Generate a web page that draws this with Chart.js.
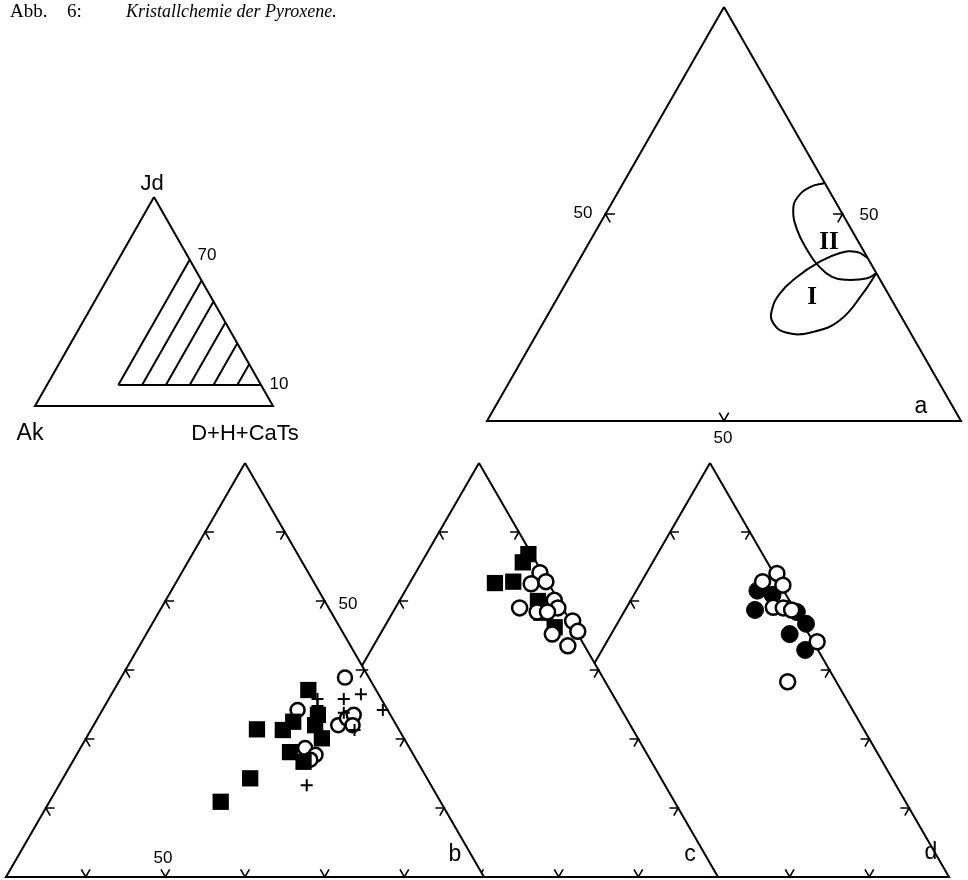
<!DOCTYPE html>
<html>
<head>
<meta charset="utf-8">
<script src="https://cdn.jsdelivr.net/npm/chart.js@4.4.1/dist/chart.umd.min.js"></script>
<style>
  html, body { margin: 0; padding: 0; background: #fff; }
  #wrap { width: 968px; height: 880px; }
</style>
</head>
<body>
<div id="wrap"><canvas id="fig" width="968" height="880"></canvas></div>
<script>
// Alle Werte als [Jd, D+H+CaTs] in %, Ak = 100 - Jd - (D+H+CaTs)

// Schema oben links: schraffiertes Feld Jd >= 10, D+H+CaTs >= 30
const keyHatchDHC = [30, 40, 50, 60, 70, 80];
const keyJdMin = 10;

// Dreieck a: Felder I und II
const fieldII = [[57.5, 42.5], [56.5, 39.9], [54.1, 38.5], [51.0, 39.1], [46.1, 42.4], [41.3, 46.9],
                 [37.7, 50.9], [34.8, 55.4], [34.1, 58.9], [34.5, 63.0], [35.7, 64.3]];
const fieldI = [[35.7, 64.3], [30.9, 63.9], [24.4, 62.3], [21.5, 58.0], [21.3, 52.6], [23.7, 48.5],
                [26.8, 46.7], [30.9, 46.4], [34.8, 48.0], [38.2, 50.7], [40.6, 54.2], [40.8, 57.7], [39.4, 60.6]];

// Dreieck b
const bSquares = [[37.1, 54.4], [31.4, 50.8], [31.3, 54.1], [32.5, 54.8], [32.0, 57.8], [33.5, 57.4],
                  [30.1, 59.6], [28.1, 56.6], [26.7, 59.0], [24.3, 53.5], [20.9, 51.5]];
const bCircles = [[38.9, 58.1], [34.2, 54.5], [32.0, 60.7], [33.0, 61.3], [33.5, 61.9], [32.0, 62.5],
                  [28.7, 58.2], [27.7, 60.0], [27.0, 59.7]];
const bCrosses = [[35.8, 59.5], [36.5, 61.3], [35.8, 56.2], [34.8, 56.7], [33.8, 60.5], [31.3, 63.1],
                  [23.3, 61.1], [34.2, 65.2]];

// Dreieck c
const cSquares = [[56.8, 42.8], [55.6, 42.7], [52.6, 40.7], [52.8, 42.9], [50.0, 47.4], [48.3, 48.7], [46.2, 51.4]];
const cCircles = [[54.1, 45.6], [52.5, 45.3], [52.8, 47.0], [50.1, 49.4], [49.0, 50.4], [49.0, 45.6],
                  [48.4, 48.1], [48.4, 49.4], [47.1, 53.2], [45.6, 54.6], [45.2, 51.6], [43.5, 54.4]];

// Dreieck d
const dFilled = [[51.5, 45.2], [48.7, 46.3], [45.2, 52.4], [42.9, 55.5], [46.7, 53.7], [50.9, 47.4], [48.4, 51.7]];
const dOpen = [[54.0, 46.4], [52.8, 45.2], [52.3, 48.0], [49.1, 48.4], [49.0, 49.7], [48.7, 50.9],
               [44.1, 56.4], [38.3, 55.6]];

// Teilstriche: Ausschnittsdreiecke alle 10 %, Dreieck a bei 50 %
const subTicks = [10, 20, 30, 40, 50];
const fullTicks = [50];

// Lage der Dreiecke auf der Seite
const geo = {
  key: { left: 35,  bottom: 406, w: 238, h: 209, jd0: 0,  dhc0: 0,  span: 100 },
  a:   { left: 487, bottom: 421, w: 474, h: 414, jd0: 0,  dhc0: 0,  span: 100 },
  b:   { left: 6,   bottom: 877, w: 478, h: 414, jd0: 10, dhc0: 30, span: 60 },
  c:   { left: 240, bottom: 877, w: 478, h: 414, jd0: 10, dhc0: 30, span: 60 },
  d:   { left: 471, bottom: 877, w: 478, h: 414, jd0: 10, dhc0: 30, span: 60 }
};

const GAP = { x: NaN, y: NaN };

function tp(g, jd, dhc) {
  const t = (jd - g.jd0) / g.span;
  const r = (dhc - g.dhc0) / g.span;
  return { x: g.left + (r + t / 2) * g.w, y: g.bottom - t * g.h };
}

function outline(g) {
  const s = g.span;
  return [tp(g, g.jd0 + s, g.dhc0), tp(g, g.jd0, g.dhc0), tp(g, g.jd0, g.dhc0 + s), tp(g, g.jd0 + s, g.dhc0)];
}

// kleine Winkel, Schenkel parallel zu den beiden anderen Seiten
function ticks(g, steps, d) {
  const out = [];
  const s = g.span, j0 = g.jd0, h0 = g.dhc0;
  steps.forEach(v => {
    let jd = j0 + v, dhc = h0 + s - v;
    out.push(tp(g, jd, dhc - d), tp(g, jd, dhc), tp(g, jd - d, dhc), GAP);
    jd = j0 + v; dhc = h0;
    out.push(tp(g, jd, dhc + d), tp(g, jd, dhc), tp(g, jd - d, dhc + d), GAP);
    jd = j0; dhc = h0 + v;
    out.push(tp(g, jd + d, dhc), tp(g, jd, dhc), tp(g, jd + d, dhc - d), GAP);
  });
  return out;
}

function pts(g, arr) {
  return arr.map(p => tp(g, p[0], p[1]));
}

function hatch(g) {
  const out = [tp(g, keyJdMin, keyHatchDHC[0]), tp(g, keyJdMin, 100 - keyJdMin), GAP];
  keyHatchDHC.forEach(k => {
    out.push(tp(g, keyJdMin, k), tp(g, 100 - k, k), GAP);
  });
  return out;
}

const lineDs = (data, extra) => Object.assign({
  data, showLine: true, pointRadius: 0, borderColor: '#000', borderWidth: 2,
  backgroundColor: '#fff', fill: false, tension: 0, spanGaps: false
}, extra || {});

const pointDs = (data, style) => Object.assign({
  data, showLine: false, pointStyle: 'circle', pointRadius: 7.5,
  pointBackgroundColor: '#fff', pointBorderColor: '#000', pointBorderWidth: 2.5
}, style);

const openCircle = { pointStyle: 'circle', pointRadius: 7.5, pointBackgroundColor: '#fff', pointBorderWidth: 2.5 };
const solidCircle = { pointStyle: 'circle', pointRadius: 8.5, pointBackgroundColor: '#000', pointBorderWidth: 1 };
const square = { pointStyle: 'rect', pointRadius: 11.5, pointBackgroundColor: '#000', pointBorderWidth: 0 };
const cross = { pointStyle: 'cross', pointRadius: 6, pointBorderWidth: 2 };

// von unten nach oben gezeichnet
const layers = [
  lineDs(outline(geo.d), { fill: 'shape' }),
  lineDs(ticks(geo.d, subTicks, 1.1), { borderWidth: 1.6 }),
  pointDs(pts(geo.d, dFilled), solidCircle),
  pointDs(pts(geo.d, dOpen), openCircle),

  lineDs(outline(geo.c), { fill: 'shape' }),
  lineDs(ticks(geo.c, subTicks, 1.1), { borderWidth: 1.6 }),
  pointDs(pts(geo.c, cSquares), square),
  pointDs(pts(geo.c, cCircles), openCircle),

  lineDs(outline(geo.b), { fill: 'shape' }),
  lineDs(ticks(geo.b, subTicks, 1.1), { borderWidth: 1.6 }),
  pointDs(pts(geo.b, bCircles), Object.assign({}, openCircle, { pointRadius: 7 })),
  pointDs(pts(geo.b, bSquares), square),
  pointDs(pts(geo.b, bCrosses), cross),

  lineDs(outline(geo.a)),
  lineDs(ticks(geo.a, fullTicks, 2), { borderWidth: 1.6 }),
  lineDs(pts(geo.a, fieldII), { tension: 0.45 }),
  lineDs(pts(geo.a, fieldI), { tension: 0.45 }),

  lineDs(outline(geo.key)),
  lineDs(hatch(geo.key))
];
layers.forEach((ds, i) => { ds.order = layers.length - i; });

const SANS = '"Liberation Sans", "DejaVu Sans", sans-serif';
const SERIF = '"Liberation Serif", "DejaVu Serif", serif';

const texts = [
  { t: 'Abb.', x: 10, y: 12, font: '19px ' + SERIF, align: 'left' },
  { t: '6:', x: 67, y: 12, font: '19px ' + SERIF, align: 'left' },
  { t: 'Kristallchemie der Pyroxene.', x: 126, y: 12, font: 'italic 18px ' + SERIF, align: 'left' },
  { t: 'Jd', x: 152, y: 184, font: '22px ' + SANS },
  { t: '70', x: 207, y: 255, font: '17px ' + SANS },
  { t: '10', x: 279, y: 384, font: '17px ' + SANS },
  { t: 'Ak', x: 30, y: 434, font: '23px ' + SANS },
  { t: 'D+H+CaTs', x: 245, y: 434, font: '22px ' + SANS },
  { t: '50', x: 583, y: 213, font: '17px ' + SANS },
  { t: '50', x: 869, y: 215, font: '17px ' + SANS },
  { t: '50', x: 723, y: 438, font: '17px ' + SANS },
  { t: 'a', x: 921, y: 407, font: '23px ' + SANS },
  { t: 'II', x: 829, y: 243, font: 'bold 25px ' + SERIF },
  { t: 'I', x: 812, y: 298, font: 'bold 25px ' + SERIF },
  { t: '50', x: 348, y: 604, font: '17px ' + SANS },
  { t: '50', x: 163, y: 858, font: '17px ' + SANS },
  { t: 'b', x: 455, y: 855, font: '23px ' + SANS },
  { t: 'c', x: 690, y: 855, font: '23px ' + SANS },
  { t: 'd', x: 931, y: 853, font: '23px ' + SANS }
];

const textPlugin = {
  id: 'figText',
  afterDatasetsDraw(chart) {
    const ctx = chart.ctx;
    const xs = chart.scales.x, ys = chart.scales.y;
    ctx.save();
    ctx.fillStyle = '#000';
    ctx.textBaseline = 'middle';
    texts.forEach(l => {
      ctx.font = l.font;
      ctx.textAlign = l.align || 'center';
      ctx.fillText(l.t, xs.getPixelForValue(l.x), ys.getPixelForValue(l.y));
    });
    ctx.restore();
  }
};

new Chart(document.getElementById('fig'), {
  type: 'scatter',
  data: { datasets: layers },
  options: {
    responsive: false,
    animation: false,
    events: [],
    layout: { padding: 0, autoPadding: false },
    plugins: { legend: { display: false }, tooltip: { enabled: false } },
    scales: {
      x: { type: 'linear', min: 0, max: 968, display: false },
      y: { type: 'linear', min: 0, max: 880, reverse: true, display: false }
    }
  },
  plugins: [textPlugin]
});
</script>
</body>
</html>
